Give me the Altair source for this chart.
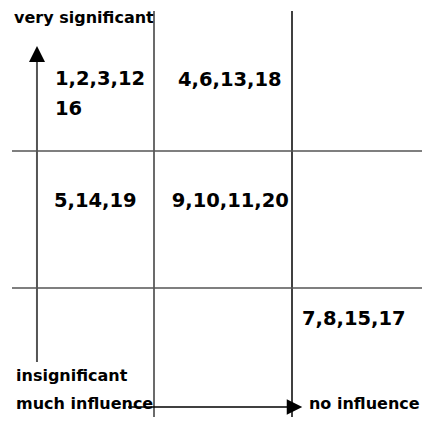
import altair as alt
import pandas as pd

# ---- diagram content (data units: one grid cell = 1) ----
grid_x = [1, 2]
grid_x_color = ["#3a3a3a", "#000000"]
grid_x_top = [3.022, 3.022]
grid_y = [1, 2]
grid_y_left = [-0.029, -0.029]

cell_text = ["1,2,3,12\n16", "4,6,13,18", "5,14,19", "9,10,11,20", "7,8,15,17"]
cell_x = [0.283, 1.174, 0.275, 1.128, 2.072]
cell_y = [2.482, 2.474, 1.593, 1.593, 0.730]

axis_text = ["very significant", "insignificant", "much influence", "no influence"]
axis_x = [-0.014, 0.0, 0.0, 2.123]
axis_y = [2.934, 0.321, 0.117, 0.117]

# arrows: vertical (significance) and horizontal (influence)
arrow_v_x = [0.152]
arrow_v_y = [0.46]
arrow_v_y2 = [2.65]
arrow_v_head = [2.708]
arrow_h_y = [0.131]
arrow_h_x = [0.812]
arrow_h_x2 = [1.964]
arrow_h_head = [2.018]

xs = alt.Scale(domain=[0, 3], range=[0, 414], nice=False, zero=False)
ys = alt.Scale(domain=[0, 3], range=[411, 0], nice=False, zero=False)
FONT = "DejaVu Sans"

vlines = alt.Chart(pd.DataFrame({"x": grid_x, "y2": grid_x_top, "c": grid_x_color})).mark_rule(
    strokeWidth=1.5
).encode(
    x=alt.X("x:Q", scale=xs, axis=None),
    y=alt.Y("y0:Q", scale=ys, axis=None),
    y2="y2:Q",
    color=alt.Color("c:N", scale=None),
).transform_calculate(y0="0")

hlines = alt.Chart(pd.DataFrame({"y": grid_y, "x1": grid_y_left})).mark_rule(
    strokeWidth=1.7, color="#555555"
).encode(
    y=alt.Y("y:Q", scale=ys, axis=None),
    x=alt.X("x1:Q", scale=xs, axis=None),
    x2="xr:Q",
).transform_calculate(xr="3")

varrow = alt.Chart(pd.DataFrame({"x": arrow_v_x, "y": arrow_v_y, "y2": arrow_v_y2})).mark_rule(
    strokeWidth=2, color="#555555"
).encode(
    x=alt.X("x:Q", scale=xs, axis=None),
    y=alt.Y("y:Q", scale=ys, axis=None),
    y2="y2:Q",
)
vhead = alt.Chart(pd.DataFrame({"x": arrow_v_x, "y": arrow_v_head})).mark_point(
    shape="M0,-1L1,1L-1,1Z", size=256, filled=True, color="#000000", opacity=1
).encode(
    x=alt.X("x:Q", scale=xs, axis=None),
    y=alt.Y("y:Q", scale=ys, axis=None),
)

harrow = alt.Chart(pd.DataFrame({"y": arrow_h_y, "x": arrow_h_x, "x2": arrow_h_x2})).mark_rule(
    strokeWidth=1.5, color="#000000"
).encode(
    y=alt.Y("y:Q", scale=ys, axis=None),
    x=alt.X("x:Q", scale=xs, axis=None),
    x2="x2:Q",
)
hhead = alt.Chart(pd.DataFrame({"x": arrow_h_head, "y": arrow_h_y})).mark_point(
    shape="M1,0L-1,-1L-1,1Z", size=240, filled=True, color="#000000", opacity=1
).encode(
    x=alt.X("x:Q", scale=xs, axis=None),
    y=alt.Y("y:Q", scale=ys, axis=None),
)

cells = alt.Chart(pd.DataFrame({"t": cell_text, "x": cell_x, "y": cell_y})).mark_text(
    font=FONT, fontWeight="bold", fontSize=19.5, align="left", baseline="alphabetic",
    lineBreak="\n", lineHeight=30, color="#000000"
).encode(
    x=alt.X("x:Q", scale=xs, axis=None),
    y=alt.Y("y:Q", scale=ys, axis=None),
    text="t:N",
)

labels = alt.Chart(pd.DataFrame({"t": axis_text, "x": axis_x, "y": axis_y})).mark_text(
    font=FONT, fontWeight="bold", fontSize=16, align="left", baseline="alphabetic",
    color="#000000"
).encode(
    x=alt.X("x:Q", scale=xs, axis=None),
    y=alt.Y("y:Q", scale=ys, axis=None),
    text="t:N",
)

chart = alt.layer(vlines, hlines, varrow, vhead, harrow, hhead, cells, labels).properties(
    width=406,
    height=403,
    padding={"left": 8, "top": 6, "right": 0, "bottom": 0},
    autosize=alt.AutoSizeParams(type="none"),
    background="#ffffff",
).configure_view(strokeWidth=0)

chart.save("out.html", embed_options={"renderer": "svg", "actions": False})
